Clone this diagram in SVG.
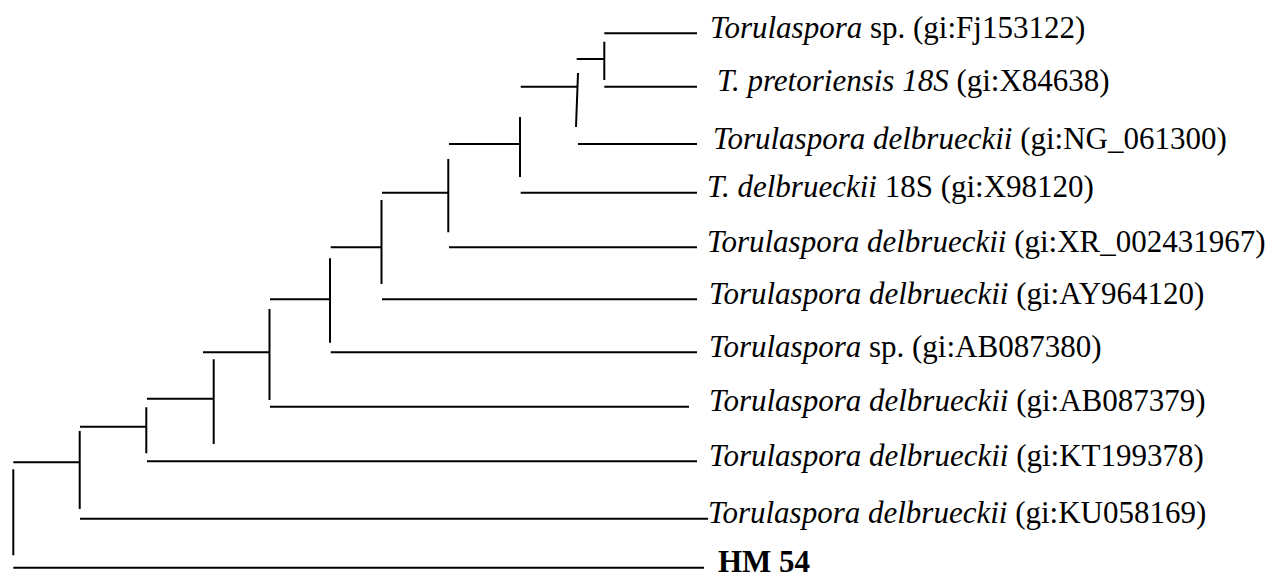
<svg xmlns="http://www.w3.org/2000/svg" width="1273" height="577" viewBox="0 0 1273 577">
<style>
.br{stroke:#000;stroke-width:2;fill:none;stroke-linecap:butt}
.lb{font-family:"Liberation Serif","Times New Roman",serif;font-size:31px;fill:#000}
.it{font-style:italic}
.bd{font-weight:bold}
</style>
<rect width="1273" height="577" fill="#fff"/>
<g id="connectors" class="br">
<path d="M576.7 59H604.3M604.3 41.7V80"/>
<path d="M520.7 86.7H577M578 73L576 127"/>
<path d="M449 144H520M520 117V177"/>
<path d="M382 192.7H448.3M448.3 159V232.3"/>
<path d="M330.7 247.3H381.5M381.5 200V284"/>
<path d="M270 299.3H330M330 258.3V342.7"/>
<path d="M203 352.3H269.5M269.5 309V400"/>
<path d="M147 398.7H213.7M213.7 359.3V444"/>
<path d="M80 426.7H146.3M146.3 407.3V453.3"/>
<path d="M13.3 462.3H79.7M79.7 431V509"/>
<path d="M13.3 469.3V555.3"/>
<path d="M604.3 33.3H697"/>
<path d="M604.3 86.7H697"/>
<path d="M578 144H697"/>
<path d="M520.7 192.7H697"/>
<path d="M449 247.3H697"/>
<path d="M382 299.3H697"/>
<path d="M330.7 352.3H697"/>
<path d="M270 406.7H689"/>
<path d="M147 461.3H697"/>
<path d="M80 518.7H708"/>
<path d="M13.3 567.7H704"/>
</g>
<g id="leaf1"><text class="lb" x="710" y="38"><tspan class="it">Torulaspora</tspan> sp. (gi:Fj153122)</text></g>
<g id="leaf2"><text class="lb" x="717" y="91"><tspan class="it">T. pretoriensis 18S</tspan> (gi:X84638)</text></g>
<g id="leaf3"><text class="lb" x="713" y="148.5"><tspan class="it">Torulaspora delbrueckii</tspan> (gi:NG_061300)</text></g>
<g id="leaf4"><text class="lb" x="707" y="197"><tspan class="it">T. delbrueckii</tspan> 18S (gi:X98120)</text></g>
<g id="leaf5"><text class="lb" x="707" y="252"><tspan class="it">Torulaspora delbrueckii</tspan> (gi:XR_002431967)</text></g>
<g id="leaf6"><text class="lb" x="709" y="304"><tspan class="it">Torulaspora delbrueckii</tspan> (gi:AY964120)</text></g>
<g id="leaf7"><text class="lb" x="709" y="357"><tspan class="it">Torulaspora</tspan> sp. (gi:AB087380)</text></g>
<g id="leaf8"><text class="lb" x="709" y="411"><tspan class="it">Torulaspora delbrueckii</tspan> (gi:AB087379)</text></g>
<g id="leaf9"><text class="lb" x="709" y="466"><tspan class="it">Torulaspora delbrueckii</tspan> (gi:KT199378)</text></g>
<g id="leaf10"><text class="lb" x="708" y="522.5"><tspan class="it">Torulaspora delbrueckii</tspan> (gi:KU058169)</text></g>
<g id="leaf11"><text class="lb bd" x="718" y="572">HM 54</text></g>
</svg>
